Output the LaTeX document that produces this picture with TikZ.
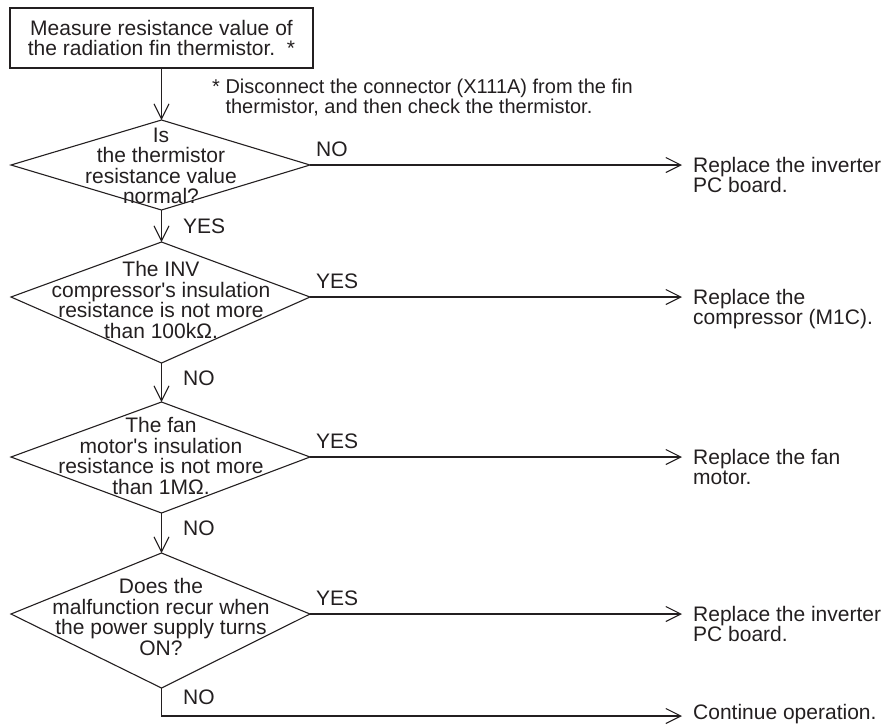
\documentclass[tikz,border=0pt]{standalone}
\usepackage{fontspec}
\setmainfont{Liberation Sans}
\newfontfamily\plainfont{Liberation Sans}[Ligatures=TeXOff]
\usetikzlibrary{arrows.meta}
\definecolor{ink}{HTML}{231F20}
\newcommand{\apos}{{\plainfont'}}
\begin{document}
\begin{tikzpicture}[x=1pt,y=-1pt,
  every node/.style={inner sep=0pt, font=\fontsize{21}{20.5}\selectfont, text=ink},
  ln/.style={draw=ink, line width=1.1pt},
  arr/.style={ln, -{Straight Barb[length=15pt,width=15pt,line width=1.1pt]}},
  lbl/.style={anchor=west},
  rlbl/.style={anchor=base west},
  res/.style={anchor=north west, align=left}]
\useasboundingbox (0,0) rectangle (894,724);
% start box
\node[ln, minimum width=303pt, minimum height=60pt, align=center] (box) at (161.5,38)
  {Measure resistance value of\\the radiation fin thermistor.\ \ *};
\node[res, font=\fontsize{20}{17}\selectfont] (note) at (212,79) {* Disconnect the connector (X111A) from the fin\\\phantom{*}\ thermistor, and then check the thermistor.};
% diamonds
\coordinate (d1t) at (161.5,120); \coordinate (d1b) at (161.5,210);
\coordinate (d1l) at (11,165);    \coordinate (d1r) at (310,165);
\coordinate (d2t) at (161.5,242); \coordinate (d2b) at (161.5,363);
\coordinate (d2l) at (11,297);    \coordinate (d2r) at (310,297);
\coordinate (d3t) at (161.5,402); \coordinate (d3b) at (161.5,513);
\coordinate (d3l) at (11,457);    \coordinate (d3r) at (310,457);
\coordinate (d4t) at (161.5,553); \coordinate (d4b) at (161.5,688);
\coordinate (d4l) at (11,614);    \coordinate (d4r) at (310,614);
\draw[ln] (d1t) -- (d1r) -- (d1b) -- (d1l) -- cycle;
\draw[ln] (d2t) -- (d2r) -- (d2b) -- (d2l) -- cycle;
\draw[ln] (d3t) -- (d3r) -- (d3b) -- (d3l) -- cycle;
\draw[ln] (d4t) -- (d4r) -- (d4b) -- (d4l) -- cycle;
\node[align=center] (q1) at (161,166) {Is\\the thermistor\\resistance value\\normal?};
\node[align=center] (q2) at (161,300) {The INV\\compressor\apos s insulation\\resistance is not more\\than 100kΩ.};
\node[align=center] (q3) at (161,456) {The fan\\motor\apos s insulation\\resistance is not more\\than 1MΩ.};
\node[align=center] (q4) at (161,617) {Does the\\malfunction recur when\\the power supply turns\\ON?};
% results
\coordinate (e1) at (682,165);
\coordinate (e2) at (682,297);
\coordinate (e3) at (682,457);
\coordinate (e4) at (682,614);
\coordinate (e5) at (682,716);
\node[res] (r1) at (693,157) {Replace the inverter\\PC board.};
\node[res] (r2) at (693,289) {Replace the\\compressor (M1C).};
\node[res] (r3) at (693,449) {Replace the fan\\motor.};
\node[res] (r4) at (693,606) {Replace the inverter\\PC board.};
\node[anchor=base west] (r5) at (693,719.5) {Continue operation.};
% connectors
\draw[arr] (box.south) -- (d1t);
\draw[arr] (d1b) -- (d2t);
\draw[arr] (d2b) -- (d3t);
\draw[arr] (d3b) -- (d4t);
\draw[arr] (d1r) -- (e1);
\draw[arr] (d2r) -- (e2);
\draw[arr] (d3r) -- (e3);
\draw[arr] (d4r) -- (e4);
\draw[arr] (d4b) |- (e5);
% labels
\node[rlbl] (l1) at (316,156) {NO};
\node[rlbl] (l2) at (316,288) {YES};
\node[rlbl] (l3) at (316,448) {YES};
\node[rlbl] (l4) at (316,605) {YES};
\node[lbl] (v1) at (183,226) {YES};
\node[lbl] (v2) at (183,378) {NO};
\node[lbl] (v3) at (183,528) {NO};
\node[lbl] (v4) at (183,697) {NO};
\end{tikzpicture}
\end{document}
